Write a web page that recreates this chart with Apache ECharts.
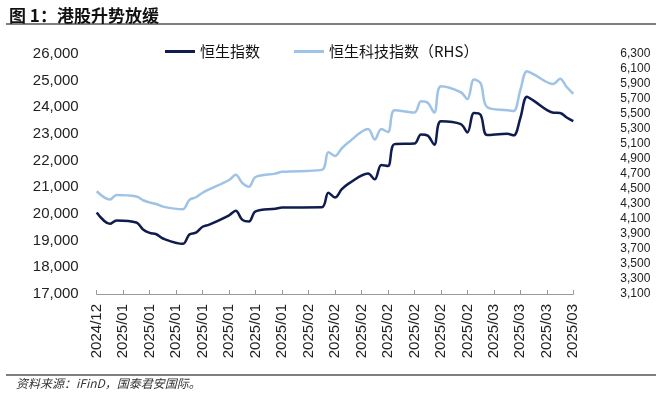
<!DOCTYPE html>
<html>
<head>
<meta charset="utf-8">
<script src="https://cdn.jsdelivr.net/npm/echarts@6/dist/echarts.min.js"></script>
<style>
html, body { margin: 0; padding: 0; background: #fff; }
#main { width: 660px; height: 398px; }
</style>
</head>
<body>
<div id="main"></div>
<script>
// 交易日
var tradeDates = ['2024/12/31',
	'2025/01/02', '2025/01/03', '2025/01/06', '2025/01/07', '2025/01/08', '2025/01/09', '2025/01/10',
	'2025/01/13', '2025/01/14', '2025/01/15', '2025/01/16', '2025/01/17', '2025/01/20', '2025/01/21',
	'2025/01/22', '2025/01/23', '2025/01/24', '2025/01/27', '2025/01/28',
	'2025/02/03', '2025/02/04', '2025/02/05', '2025/02/06', '2025/02/07', '2025/02/10', '2025/02/11',
	'2025/02/12', '2025/02/13', '2025/02/14', '2025/02/17', '2025/02/18', '2025/02/19', '2025/02/20',
	'2025/02/21', '2025/02/24', '2025/02/25', '2025/02/26', '2025/02/27', '2025/02/28',
	'2025/03/03', '2025/03/04', '2025/03/05', '2025/03/06', '2025/03/07', '2025/03/10', '2025/03/11',
	'2025/03/12', '2025/03/13'];
// 恒生指数
var hsi = [20060,
	19630, 19760, 19680, 19420, 19290, 19240, 19080,
	18880, 19230, 19300, 19520, 19600, 19950, 20120,
	19780, 19720, 20100, 20200, 20240,
	20250, 20800, 20620, 20920, 21130, 21520, 21300,
	21840, 21800, 22620, 22640, 22980, 22940, 22600,
	23480, 23370, 23060, 23790, 23720, 22960,
	23010, 22950, 23600, 24400, 24250, 23800, 23790,
	23620, 23480];
// 恒生科技指数（右轴）
var hstech = [4470,
	4360, 4420, 4400, 4350, 4320, 4300, 4265,
	4230, 4355, 4390, 4450, 4495, 4620, 4690,
	4580, 4530, 4660, 4705, 4730,
	4755, 4990, 4940, 5040, 5120, 5300, 5160,
	5300, 5260, 5550, 5520, 5670, 5650, 5520,
	5870, 5790, 5700, 5960, 5910, 5590,
	5550, 5540, 5820, 6070, 6030, 5900, 5970,
	5860, 5770];
var seriesNames = ['恒生指数', '恒生科技指数（RHS）'];

var startDay = new Date(2024, 11, 31);
var endDay = new Date(2025, 2, 13);
function dayIndex(str) {
	var p = str.split('/');
	var d = new Date(+p[0], +p[1] - 1, +p[2]);
	return Math.round((d - startDay) / 86400000);
}
function dayLabel(idx) {
	var d = new Date(startDay.getTime() + idx * 86400000);
	var m = d.getMonth() + 1;
	return d.getFullYear() + '/' + (m < 10 ? '0' + m : m);
}
var lastDay = Math.round((endDay - startDay) / 86400000);

var hsiData = [], techData = [];
for (var i = 0; i < tradeDates.length; i++) {
	var x = dayIndex(tradeDates[i]);
	hsiData.push([x, hsi[i]]);
	techData.push([x, hstech[i]]);
}

function comma(v) {
	return String(v).replace(/\B(?=(\d{3})+(?!\d))/g, ',');
}

var font = 'Liberation Sans, Arial, Noto Sans CJK SC, sans-serif';
var cjk = 'Noto Sans CJK SC, sans-serif';

var myChart = echarts.init(document.getElementById('main'));
var option = {
	backgroundColor: '#fff',
	animation: false,
	title: {
		text: '图 1：港股升势放缓',
		left: 4,
		top: 2,
		textStyle: { fontFamily: cjk, fontSize: 17, fontWeight: 'bold', color: '#111' }
	},
	graphic: [
		{ type: 'line', shape: { x1: 6, y1: 24, x2: 656, y2: 24 }, style: { stroke: '#555', lineWidth: 1.5 } },
		{ type: 'line', shape: { x1: 6, y1: 375, x2: 656, y2: 375 }, style: { stroke: '#555', lineWidth: 1.5 } },
		{ type: 'text', left: 16, top: 377, style: { text: '资料来源：iFinD，国泰君安国际。', font: 'italic 12px ' + cjk, fill: '#333' } }
	],
	legend: {
		data: seriesNames,
		left: 160,
		top: 39,
		icon: 'rect',
		itemWidth: 30,
		itemHeight: 3,
		itemGap: 34,
		textStyle: { fontFamily: cjk, fontSize: 15, color: '#111' }
	},
	grid: { left: 96.7, right: 86.7, top: 54, bottom: 104 },
	xAxis: {
		type: 'value',
		min: 0,
		max: lastDay,
		interval: 4,
		splitLine: { show: false },
		axisLine: { show: true, lineStyle: { color: '#999', width: 1 } },
		axisTick: { show: true, inside: true, length: 4, lineStyle: { color: '#999' } },
		axisLabel: {
			rotate: 90,
			margin: 10,
			fontFamily: font,
			fontSize: 15,
			color: '#222',
			formatter: function (v) { return dayLabel(v); }
		}
	},
	yAxis: [{
		type: 'value',
		min: 17000,
		max: 26000,
		interval: 1000,
		splitLine: { show: false },
		axisLine: { show: false },
		axisTick: { show: false },
		axisLabel: { margin: 18, fontFamily: font, fontSize: 15, color: '#222', formatter: comma }
	}, {
		type: 'value',
		min: 3100,
		max: 6300,
		interval: 100,
		splitLine: { show: false },
		axisLine: { show: false },
		axisTick: { show: false },
		axisLabel: {
			margin: 47,
			fontFamily: font,
			fontSize: 12,
			color: '#222',
			formatter: function (v) { return (v - 3100) % 200 === 0 ? comma(v) : ''; }
		}
	}],
	series: [{
		name: seriesNames[0],
		type: 'line',
		yAxisIndex: 0,
		data: hsiData,
		smooth: 0.35,
		showSymbol: false,
		lineStyle: { color: '#0e1c4e', width: 2.5 },
		itemStyle: { color: '#0e1c4e' },
		z: 3
	}, {
		name: seriesNames[1],
		type: 'line',
		yAxisIndex: 1,
		data: techData,
		smooth: 0.35,
		showSymbol: false,
		lineStyle: { color: '#9fc3e4', width: 2.5 },
		itemStyle: { color: '#9fc3e4' },
		z: 2
	}]
};
myChart.setOption(option);
</script>
</body>
</html>
